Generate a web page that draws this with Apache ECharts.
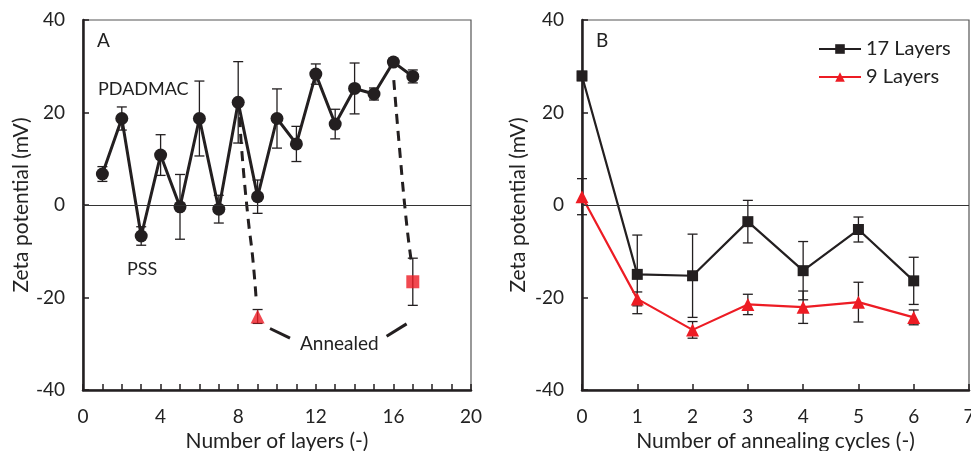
<!DOCTYPE html>
<html lang="en">
<head>
    <meta charset="UTF-8">
    <title>Zeta potential</title>
    <style>
        html, body { margin: 0; padding: 0; background: #fff; }
        #chart { width: 971px; height: 451px; }
    </style>
    <script src="https://cdn.jsdelivr.net/npm/echarts@6/dist/echarts.min.js"></script>
</head>
<body>
<div id="chart"></div>
<script>
    // panel A: zeta potential vs number of layers
    var layersX = [1, 2, 3, 4, 5, 6, 7, 8, 9, 10, 11, 12, 13, 14, 15, 16, 17];
    var layersZeta = [6.7, 18.7, -6.7, 10.8, -0.4, 18.7, -0.9, 22.2, 1.8, 18.7, 13.2, 28.3, 17.5, 25.2, 24.0, 30.9, 27.8];
    var layersErr = [1.6, 2.5, 2.0, 4.4, 7.0, 8.1, 3.0, 8.8, 3.6, 6.4, 3.8, 2.2, 3.2, 5.5, 1.3, 0.8, 1.4];

    // annealed points (9 layers -> triangle, 17 layers -> square)
    var annealed9 = [9, -24.1, 1.5];
    var annealed17 = [17, -16.6, 5.1];

    // dashed guide curves
    var dashLeftX = [8.08, 8.18, 8.5, 8.75, 8.92];
    var dashLeftY = [19, 12, -2.5, -11.5, -20];
    var dashRightX = [16.02, 16.3, 16.68, 16.95];
    var dashRightY = [27, 13, -4, -13];
    var annealLeftX = [9.64, 10.67];
    var annealLeftY = [-26.7, -28.8];
    var annealRightX = [15.65, 16.68];
    var annealRightY = [-28.4, -25.7];

    // panel B: zeta potential vs annealing cycles
    var cycles = [0, 1, 2, 3, 4, 5, 6];
    var zeta17 = [27.9, -15.0, -15.3, -3.6, -14.2, -5.3, -16.4];
    var err17 = [1.0, 8.5, 9.0, 4.6, 6.3, 2.7, 5.1];
    var zeta9 = [1.8, -20.3, -27.0, -21.5, -22.1, -21.0, -24.3];
    var err9 = [3.9, 1.5, 1.8, 2.2, 3.5, 4.3, 1.6];

    var black = '#231F20';
    var red = '#ED1C24';
    var font = 'Lato';

    function pairs(xs, ys) {
        return xs.map(function (x, i) { return [x, ys[i]]; });
    }
    function bars(xs, ys, es) {
        return xs.map(function (x, i) { return [x, ys[i] - es[i], ys[i] + es[i]]; });
    }
    function errorSeries(data, xi, color) {
        return {
            type: 'custom',
            xAxisIndex: xi,
            yAxisIndex: xi,
            silent: true,
            z: 1,
            encode: {x: 0, y: [1, 2]},
            data: data,
            renderItem: function (params, api) {
                var x = api.value(0);
                var lo = api.coord([x, api.value(1)]);
                var hi = api.coord([x, api.value(2)]);
                var w = 5;
                var st = {stroke: color, lineWidth: 1.3};
                return {
                    type: 'group',
                    children: [
                        {type: 'line', shape: {x1: lo[0], y1: lo[1], x2: hi[0], y2: hi[1]}, style: st},
                        {type: 'line', shape: {x1: lo[0] - w, y1: lo[1], x2: lo[0] + w, y2: lo[1]}, style: st},
                        {type: 'line', shape: {x1: hi[0] - w, y1: hi[1], x2: hi[0] + w, y2: hi[1]}, style: st}
                    ]
                };
            }
        };
    }

    var zeroLine = {
        silent: true,
        symbol: 'none',
        label: {show: false},
        lineStyle: {color: '#333', width: 1, type: 'solid'},
        data: [{yAxis: 0}]
    };

    function xAxisCfg(gi, max, interval, name, minor) {
        return {
            type: 'value', gridIndex: gi, min: 0, max: max, interval: interval,
            name: name, nameLocation: 'middle', nameGap: 31,
            nameTextStyle: {fontFamily: font, fontSize: 21, color: '#222'},
            axisLine: {onZero: false, lineStyle: {color: black, width: 2.5}},
            axisTick: {inside: true, length: 6, lineStyle: {color: black, width: 1.5}},
            minorTick: {show: minor, splitNumber: 4, length: 6, lineStyle: {color: black, width: 1.5}},
            axisLabel: {fontFamily: font, fontSize: 19, color: '#222', margin: 17},
            splitLine: {show: false}
        };
    }
    function yAxisCfg(gi, gap) {
        return {
            type: 'value', gridIndex: gi, min: -40, max: 40, interval: 20,
            name: 'Zeta potential (mV)', nameLocation: 'middle', nameGap: gap,
            nameTextStyle: {fontFamily: font, fontSize: 21, color: '#222'},
            axisLine: {lineStyle: {color: black, width: 2.5}},
            axisTick: {inside: true, length: 6, lineStyle: {color: black, width: 1.5}},
            axisLabel: {fontFamily: font, fontSize: 19, color: '#222', margin: 18},
            splitLine: {show: false}
        };
    }

    var dashStyle = {color: black, width: 3, type: [10, 7]};

    var option = {
        animation: false,
        textStyle: {fontFamily: font},
        grid: [
            {left: 83, top: 20, width: 388, height: 370, outerBoundsMode: 'none',
                show: true, borderColor: '#555', borderWidth: 1.2},
            {left: 582, top: 20, width: 387, height: 370, outerBoundsMode: 'none',
                show: true, borderColor: '#555', borderWidth: 1.2}
        ],
        xAxis: [
            xAxisCfg(0, 20, 4, 'Number of layers (-)', true),
            xAxisCfg(1, 7, 1, 'Number of annealing cycles (-)', false)
        ],
        yAxis: [yAxisCfg(0, 49), yAxisCfg(1, 53)],
        legend: {
            data: ['17 Layers', '9 Layers'],
            orient: 'vertical',
            left: 813,
            top: 34,
            itemWidth: 42,
            itemHeight: 12,
            itemGap: 8,
            textStyle: {fontFamily: font, fontSize: 20, color: '#222'}
        },
        graphic: [
            {type: 'text', left: 97, top: 31, style: {text: 'A', font: '19px Lato', fill: '#222'}},
            {type: 'text', left: 98, top: 80, style: {text: 'PDADMAC', font: '18px Lato', fill: '#222'}},
            {type: 'text', left: 127, top: 260, style: {text: 'PSS', font: '18px Lato', fill: '#222'}},
            {type: 'text', left: 300, top: 334, style: {text: 'Annealed', font: '19px Lato', fill: '#222'}},
            {type: 'text', left: 596, top: 31, style: {text: 'B', font: '19px Lato', fill: '#222'}}
        ],
        series: [
            // panel A
            {
                type: 'line', xAxisIndex: 0, yAxisIndex: 0, data: pairs(dashLeftX, dashLeftY),
                smooth: true, symbol: 'none', lineStyle: dashStyle, z: 2
            },
            {
                type: 'line', xAxisIndex: 0, yAxisIndex: 0, data: pairs(dashRightX, dashRightY),
                smooth: true, symbol: 'none', lineStyle: dashStyle, z: 2
            },
            {
                type: 'line', xAxisIndex: 0, yAxisIndex: 0, data: pairs(annealLeftX, annealLeftY),
                symbol: 'none', lineStyle: {color: black, width: 3}, z: 2
            },
            {
                type: 'line', xAxisIndex: 0, yAxisIndex: 0, data: pairs(annealRightX, annealRightY),
                symbol: 'none', lineStyle: {color: black, width: 3}, z: 2
            },
            errorSeries(bars(layersX, layersZeta, layersErr), 0, black),
            errorSeries([[annealed9[0], annealed9[1] - annealed9[2], annealed9[1] + annealed9[2]],
                [annealed17[0], annealed17[1] - annealed17[2], annealed17[1] + annealed17[2]]], 0, black),
            {
                name: 'layers', type: 'line', xAxisIndex: 0, yAxisIndex: 0,
                data: pairs(layersX, layersZeta),
                symbol: 'circle', symbolSize: 13,
                itemStyle: {color: black},
                lineStyle: {color: black, width: 3},
                markLine: zeroLine,
                z: 3
            },
            {
                type: 'scatter', xAxisIndex: 0, yAxisIndex: 0,
                data: [[annealed9[0], annealed9[1]]],
                symbol: 'triangle', symbolSize: 14, itemStyle: {color: red}, z: 4
            },
            {
                type: 'scatter', xAxisIndex: 0, yAxisIndex: 0,
                data: [[annealed17[0], annealed17[1]]],
                symbol: 'rect', symbolSize: 13, itemStyle: {color: red}, z: 4
            },
            // panel B
            errorSeries(bars(cycles, zeta17, err17), 1, black),
            errorSeries(bars(cycles, zeta9, err9), 1, black),
            {
                name: '17 Layers', type: 'line', xAxisIndex: 1, yAxisIndex: 1,
                data: pairs(cycles, zeta17),
                symbol: 'rect', symbolSize: 11,
                itemStyle: {color: black},
                lineStyle: {color: black, width: 2.2},
                markLine: zeroLine,
                z: 3
            },
            {
                name: '9 Layers', type: 'line', xAxisIndex: 1, yAxisIndex: 1,
                data: pairs(cycles, zeta9),
                symbol: 'triangle', symbolSize: 13,
                itemStyle: {color: red},
                lineStyle: {color: red, width: 2.2},
                z: 3
            }
        ]
    };

    var chart = echarts.init(document.getElementById('chart'));
    chart.setOption(option);
</script>
</body>
</html>
